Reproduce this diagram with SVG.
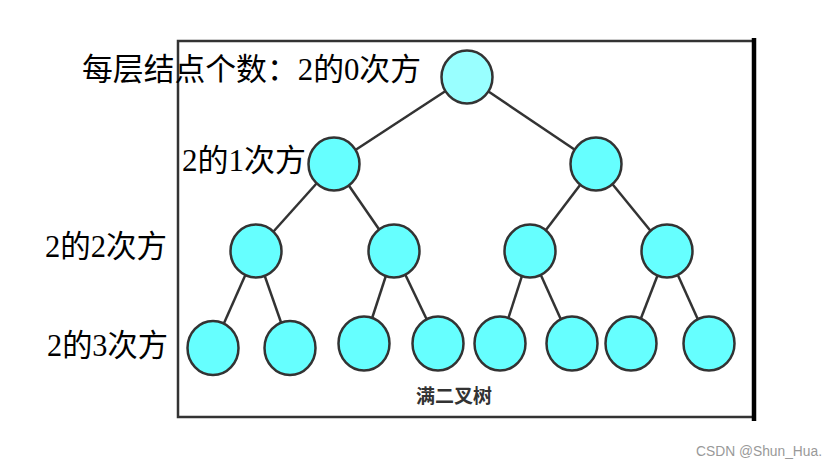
<svg xmlns="http://www.w3.org/2000/svg" width="837" height="469" viewBox="0 0 837 469">
<style>
.frame{fill:none;stroke:#333;stroke-width:2.5}
.edge{stroke:#333;stroke-width:2.5;fill:none}
.node{fill:#66ffff;stroke:#333;stroke-width:2.5}
.root{fill:#99ffff;stroke:#333;stroke-width:2.5}
.lbl{font-family:"Liberation Serif","Noto Sans CJK SC",serif;font-size:31px;fill:#000}
.cap{font-family:"Noto Sans CJK SC","Liberation Sans",sans-serif;font-size:19px;font-weight:bold;fill:#333}
.wm{font-family:"Liberation Sans",Arial,sans-serif;font-size:14px;fill:#999}
</style>
<rect width="837" height="469" fill="#fff"/>
<g id="frame">
<polyline class="frame" points="754,41 178,41 178,417 754,417"/>
<line x1="754" y1="38" x2="754" y2="421" stroke="#000" stroke-width="4.5"/>
</g>
<g id="connectors">
<line class="edge" x1="467" y1="77" x2="334" y2="164"/>
<line class="edge" x1="467" y1="77" x2="596" y2="164"/>
<line class="edge" x1="334" y1="164" x2="256" y2="251"/>
<line class="edge" x1="334" y1="164" x2="394" y2="251"/>
<line class="edge" x1="596" y1="164" x2="530" y2="251"/>
<line class="edge" x1="596" y1="164" x2="667" y2="251"/>
<line class="edge" x1="256" y1="251" x2="213" y2="348"/>
<line class="edge" x1="256" y1="251" x2="290" y2="348"/>
<line class="edge" x1="394" y1="251" x2="364" y2="343"/>
<line class="edge" x1="394" y1="251" x2="438" y2="343"/>
<line class="edge" x1="530" y1="251" x2="500" y2="344"/>
<line class="edge" x1="530" y1="251" x2="572" y2="344"/>
<line class="edge" x1="667" y1="251" x2="631" y2="344"/>
<line class="edge" x1="667" y1="251" x2="709" y2="344"/>
</g>
<g id="n0"><ellipse class="root" cx="467" cy="77" rx="25.5" ry="26.5"/></g>
<g id="n1"><ellipse class="node" cx="334" cy="164" rx="25.5" ry="26.5"/></g>
<g id="n2"><ellipse class="node" cx="596" cy="164" rx="25.5" ry="26.5"/></g>
<g id="n3"><ellipse class="node" cx="256" cy="251" rx="25.5" ry="26.5"/></g>
<g id="n4"><ellipse class="node" cx="394" cy="251" rx="25.5" ry="26.5"/></g>
<g id="n5"><ellipse class="node" cx="530" cy="251" rx="25.5" ry="26.5"/></g>
<g id="n6"><ellipse class="node" cx="667" cy="251" rx="25.5" ry="26.5"/></g>
<g id="n7"><ellipse class="node" cx="213" cy="348" rx="25.5" ry="27"/></g>
<g id="n8"><ellipse class="node" cx="290" cy="348" rx="25.5" ry="27"/></g>
<g id="n9"><ellipse class="node" cx="364" cy="343.5" rx="25.5" ry="27"/></g>
<g id="n10"><ellipse class="node" cx="438" cy="343.5" rx="25.5" ry="27"/></g>
<g id="n11"><ellipse class="node" cx="500" cy="343.5" rx="25.5" ry="27"/></g>
<g id="n12"><ellipse class="node" cx="572" cy="343.5" rx="25.5" ry="27"/></g>
<g id="n13"><ellipse class="node" cx="631" cy="343.5" rx="25.5" ry="27"/></g>
<g id="n14"><ellipse class="node" cx="709" cy="343.5" rx="25.5" ry="27"/></g>
<g id="labels">
<text class="lbl" x="82" y="80" textLength="339" lengthAdjust="spacingAndGlyphs">每层结点个数：2的0次方</text>
<text class="lbl" x="182" y="171" textLength="124" lengthAdjust="spacingAndGlyphs">2的1次方</text>
<text class="lbl" x="45" y="257" textLength="122" lengthAdjust="spacingAndGlyphs">2的2次方</text>
<text class="lbl" x="47" y="356" textLength="121" lengthAdjust="spacingAndGlyphs">2的3次方</text>
<text class="cap" x="454" y="403" text-anchor="middle">满二叉树</text>
<text class="wm" x="696" y="456" textLength="126" lengthAdjust="spacingAndGlyphs">CSDN @Shun_Hua.</text>
</g>
</svg>
